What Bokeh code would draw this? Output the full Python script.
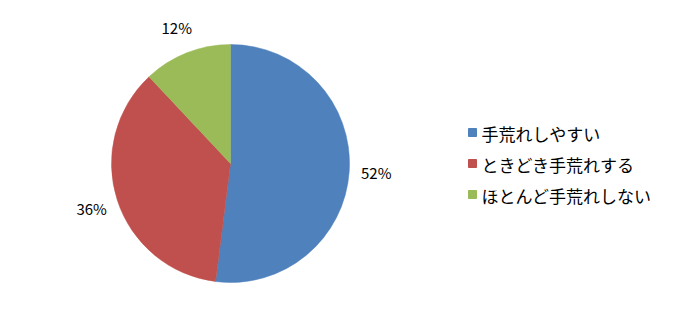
import math
from bokeh.plotting import figure
from bokeh.models import ColumnDataSource, Range1d
from bokeh.core.properties import value
from bokeh.embed import file_html
from bokeh.resources import INLINE

categories = ["手荒れしやすい", "ときどき手荒れする", "ほとんど手荒れしない"]
shares = [52, 36, 12]
colors = ["#4F81BD", "#C0504D", "#9BBB59"]

W, H = 674, 325
cx, cy, R = 230, H - 163, 119
label_r = 146

p = figure(width=W, height=H, output_backend="svg", toolbar_location=None,
           x_range=Range1d(0, W), y_range=Range1d(0, H), min_border=0)
p.axis.visible = False
p.grid.visible = False
p.outline_line_color = None
p.background_fill_color = "white"

total = sum(shares)
starts, ends, lx, ly, labels = [], [], [], [], []
cum = 0.0
for v in shares:
    a0 = math.pi / 2 - 2 * math.pi * cum / total
    a1 = math.pi / 2 - 2 * math.pi * (cum + v) / total
    mid = (a0 + a1) / 2
    starts.append(a0)
    ends.append(a1)
    lx.append(cx + label_r * math.cos(mid))
    ly.append(cy + label_r * math.sin(mid))
    labels.append(f"{v}%")
    cum += v

src = ColumnDataSource(dict(start=starts, end=ends, color=colors, lx=lx, ly=ly, label=labels))
p.wedge(x=cx, y=cy, radius=R, start_angle="start", end_angle="end", direction="clock",
        fill_color="color", line_color="color", line_width=0.5, source=src)
p.text(x="lx", y="ly", text="label", source=src, text_align="center", text_baseline="middle",
       text_font=value("Noto Sans CJK JP"), text_font_size="15px", text_color="black")

# legend
leg_x, leg_y0, leg_dy = 472, H - 132, 31
lsrc = ColumnDataSource(dict(
    x=[leg_x] * len(categories),
    y=[leg_y0 - i * leg_dy for i in range(len(categories))],
    tx=[leg_x + 9] * len(categories),
    ty=[leg_y0 - 1 - i * leg_dy for i in range(len(categories))],
    name=categories, color=colors))
p.scatter(x="x", y="y", marker="square", size=8, fill_color="color", line_color="color", source=lsrc)
p.text(x="tx", y="ty", text="name", source=lsrc, text_align="left", text_baseline="middle",
       text_font=value("Noto Sans CJK JP"), text_font_size="17px", text_color="black")

open("out.html", "w").write(file_html(p, INLINE))
